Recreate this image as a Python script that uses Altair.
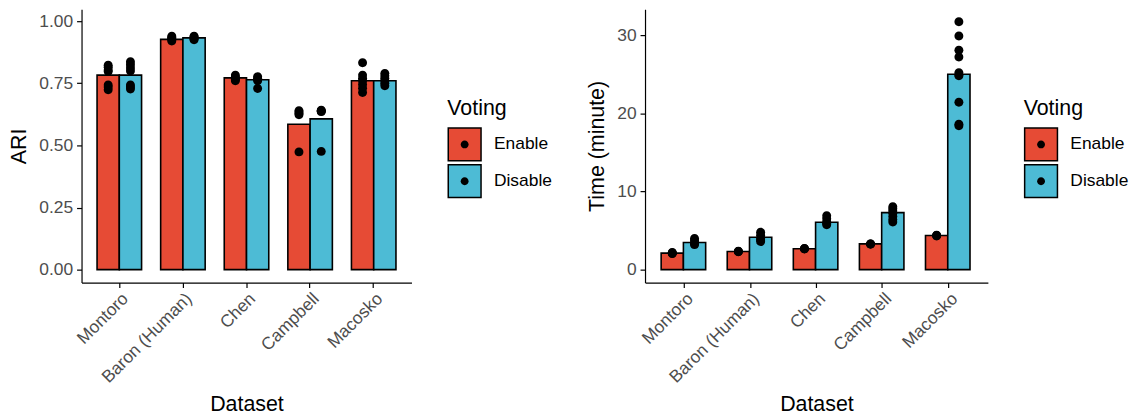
import altair as alt
import pandas as pd

datasets = ["Montoro", "Baron (Human)", "Chen", "Campbell", "Macosko"]
voting = ["Enable", "Disable"]
colors = ["#E64B35", "#4DBBD5"]

# ARI: bar heights (mean) and individual runs
ari_enable_bar = [0.783, 0.927, 0.772, 0.585, 0.760]
ari_disable_bar = [0.783, 0.933, 0.764, 0.607, 0.760]
ari_enable_pts = [
    [0.823, 0.815, 0.804, 0.798, 0.743, 0.735, 0.724],
    [0.940, 0.935, 0.930, 0.925, 0.920],
    [0.783, 0.775, 0.770, 0.765, 0.760],
    [0.640, 0.635, 0.628, 0.623, 0.474],
    [0.833, 0.783, 0.770, 0.760, 0.745, 0.730, 0.713],
]
ari_disable_pts = [
    [0.837, 0.825, 0.812, 0.800, 0.743, 0.735, 0.727],
    [0.940, 0.937, 0.932, 0.928, 0.925],
    [0.777, 0.770, 0.765, 0.760, 0.729],
    [0.642, 0.640, 0.638, 0.636, 0.476],
    [0.790, 0.780, 0.770, 0.760, 0.750, 0.740],
]

# Time (minute): bar heights (mean) and individual runs
time_enable_bar = [2.12, 2.33, 2.67, 3.30, 4.36]
time_disable_bar = [3.47, 4.15, 6.06, 7.29, 25.0]
time_enable_pts = [
    [2.20, 2.15, 2.10, 2.05],
    [2.35, 2.33, 2.30],
    [2.70, 2.67, 2.65],
    [3.30, 3.28, 3.25],
    [4.40, 4.36, 4.30],
]
time_disable_pts = [
    [4.00, 3.80, 3.50, 3.30, 3.20],
    [4.79, 4.40, 4.00, 3.80, 3.60],
    [6.90, 6.50, 6.10, 5.90, 5.75],
    [8.05, 7.80, 7.50, 7.20, 6.80, 6.40, 6.10],
    [31.7, 29.87, 28.05, 27.2, 25.2, 24.9, 24.8, 21.4, 18.6, 18.4],
]

FONT = "Liberation Sans"
# dot glyph; the two move-to corners give it the same box as the legend square
DOT = "M-1,-1M1,1M-0.24,0A0.24,0.24,0,1,0,0.24,0A0.24,0.24,0,1,0,-0.24,0Z"


def bar_frame(enable, disable):
    rows = []
    for i, d in enumerate(datasets):
        rows.append({"Dataset": d, "Voting": "Enable", "value": enable[i]})
        rows.append({"Dataset": d, "Voting": "Disable", "value": disable[i]})
    return pd.DataFrame(rows)


def pts_frame(enable, disable):
    rows = []
    for i, d in enumerate(datasets):
        for v in enable[i]:
            rows.append({"Dataset": d, "Voting": "Enable", "Voting2": "Enable", "value": v})
        for v in disable[i]:
            rows.append({"Dataset": d, "Voting": "Disable", "Voting2": "Disable", "value": v})
    return pd.DataFrame(rows)


def panel(bdf, pdf, ytitle, ydomain, yvalues, fmt, W, H):
    x = alt.X(
        "Dataset:N", sort=datasets, title="Dataset",
        scale=alt.Scale(paddingInner=0.3, paddingOuter=0.244),
        axis=alt.Axis(labelAngle=-45, labelAlign="right", labelBaseline="top",
                      labelPadding=2, titlePadding=8, labelColor="#4D4D4D"),
    )
    xo = alt.XOffset("Voting:N", sort=voting, scale=alt.Scale(paddingInner=0, paddingOuter=0))
    y = alt.Y(
        "value:Q", title=ytitle,
        scale=alt.Scale(domain=ydomain, nice=False, zero=False),
        axis=alt.Axis(values=yvalues, format=fmt, labelPadding=4, titlePadding=8),
    )
    common = dict(orient="none", legendX=W + 36, legendY=89,
                  titleFont=FONT, titleFontSize=21.5, titleFontWeight="normal",
                  titlePadding=8, labelFont=FONT, labelFontSize=17.5, labelOffset=12,
                  symbolSize=1089, symbolStrokeWidth=1.5, rowPadding=-4, padding=0)
    fill_leg = alt.Legend(title="Voting", symbolType="square", symbolStrokeColor="black",
                          titleColor="black", labelColor="black", **common)
    dot_leg = alt.Legend(title=" ", labelExpr="' '", titleColor="transparent",
                         labelColor="transparent", symbolFillColor="black",
                         symbolStrokeColor="transparent", symbolOpacity=1, zindex=2, **common)
    bars = alt.Chart(bdf).mark_bar(stroke="black", strokeWidth=1.6).encode(
        x=x, xOffset=xo, y=y, y2=alt.datum(0),
        fill=alt.Fill("Voting:N", scale=alt.Scale(domain=voting, range=colors), legend=fill_leg),
    )
    pts = alt.Chart(pdf).mark_point(filled=True, color="black", size=1406, opacity=1,
                                    clip=True).encode(
        x=x, xOffset=xo, y=y,
        shape=alt.Shape("Voting2:N", sort=voting, scale=alt.Scale(range=[DOT, DOT]), legend=dot_leg),
    )
    return alt.layer(bars, pts).properties(width=W, height=H)


left = panel(bar_frame(ari_enable_bar, ari_disable_bar), pts_frame(ari_enable_pts, ari_disable_pts),
             "ARI", [-0.052, 1.048], [0, 0.25, 0.5, 0.75, 1.0], ".2f", 332, 275)
right = panel(bar_frame(time_enable_bar, time_disable_bar), pts_frame(time_enable_pts, time_disable_pts),
              "Time (minute)", [-1.65, 33.3], [0, 10, 20, 30], "d", 345, 275)

chart = alt.hconcat(left, right, spacing=235, bounds="flush").resolve_scale(
    fill="independent", shape="independent", x="independent", y="independent"
).properties(
    padding={"left": 0, "top": 0, "right": 0, "bottom": 0}
).configure_view(stroke=None).configure_axis(
    grid=False, domainColor="black", domainWidth=1.2, tickColor="black", tickWidth=1.2,
    tickSize=5, labelColor="#4D4D4D", labelFont=FONT, labelFontSize=17.5,
    titleFont=FONT, titleFontSize=21.5, titleFontWeight="normal", titleColor="black",
)

chart.save("out.html", embed_options={"renderer": "svg", "actions": False})
